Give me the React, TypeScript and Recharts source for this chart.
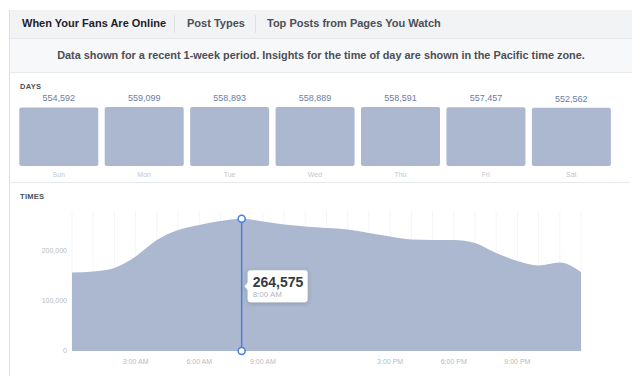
import React from "react";
import {
  BarChart,
  Bar,
  AreaChart,
  Area,
  XAxis,
  YAxis,
  CartesianGrid,
  LabelList,
  ReferenceLine,
  ReferenceDot,
} from "recharts";

const days = ["Sun", "Mon", "Tue", "Wed", "Thu", "Fri", "Sat"];
const dayFans = [554592, 559099, 558893, 558889, 558591, 557457, 552562];

const hours = [
  0, 1, 2, 3, 4, 5, 6, 7, 8, 9, 10, 11, 12, 13, 14, 15, 16, 17, 18, 19, 20, 21,
  22, 23, 24,
];
const hourLabels = [
  "12:00 AM", "1:00 AM", "2:00 AM", "3:00 AM", "4:00 AM", "5:00 AM",
  "6:00 AM", "7:00 AM", "8:00 AM", "9:00 AM", "10:00 AM", "11:00 AM",
  "12:00 PM", "1:00 PM", "2:00 PM", "3:00 PM", "4:00 PM", "5:00 PM",
  "6:00 PM", "7:00 PM", "8:00 PM", "9:00 PM", "10:00 PM", "11:00 PM",
  "12:00 AM",
];
const hourFans = [
  157000, 159000, 166000, 189000, 222000, 242000, 252000, 260000, 264575,
  259000, 253000, 249000, 246000, 243000, 236000, 229000, 223000, 222000,
  222000, 216000, 196000, 180000, 171000, 177000, 158000,
];
const labeledHours = [3, 6, 9, 15, 18, 21];
const yTicks = [0, 100000, 200000];
const peakHour = 8;

const dayData = days.map((d, i) => ({ day: d, fans: dayFans[i] }));
const hourData = hours.map((h, i) => ({ hour: h, fans: hourFans[i] }));

const FONT = '"Liberation Sans", Arial, Helvetica, sans-serif';
const FILL = "#abb8cf";
const BLUE = "#4a7fdb";

const fmt = (v: number) => v.toLocaleString("en-US");

function PeakLabel(props: any) {
  const vb = props.viewBox || {};
  const x = vb.x + 6;
  const y = vb.y + vb.height * 0.39;
  const w = 60;
  const h = 32;
  return (
    <g>
      <path
        d={`M${x + 3},${y} h${w - 6} a3,3 0 0 1 3,3 v${h - 6} a3,3 0 0 1 -3,3 h${-(w - 6)} a3,3 0 0 1 -3,-3 v${-(h / 2 - 7)} l-3,-4 l3,-4 v${-(h / 2 - 7)} a3,3 0 0 1 3,-3 z`}
        fill="#fff"
        stroke="#e1e4ea"
        strokeWidth={0.5}
        style={{ filter: "drop-shadow(0 1px 2px rgba(0,0,0,0.18))" }}
      />
      <text
        x={x + 5}
        y={y + 17}
        fontSize={14}
        fontWeight="bold"
        fill="#373a40"
        fontFamily={FONT}
      >
        {fmt(hourFans[peakHour])}
      </text>
      <text x={x + 5} y={y + 27} fontSize={8} fill="#b3b6bc" fontFamily={FONT}>
        {hourLabels[peakHour]}
      </text>
    </g>
  );
}

export default function App() {
  return (
    <div
      style={{
        position: "absolute",
        left: 0,
        top: 0,
        width: 640,
        height: 376,
        background: "#fff",
        overflow: "hidden",
        fontFamily: FONT,
      }}
    >
      {/* card frame */}
      <div
        style={{
          position: "absolute",
          left: 9,
          top: 10,
          width: 623,
          height: 366,
          borderLeft: "1px solid #dddfe2",
        }}
      />
      {/* tabs */}
      <div
        style={{
          position: "absolute",
          left: 10,
          top: 10,
          width: 622,
          height: 28,
          background: "#f2f3f5",
          borderBottom: "1px solid #e6e8eb",
          fontSize: 11,
          fontWeight: "bold",
        }}
      >
        <span style={{ position: "absolute", left: 12, top: 7, color: "#1d2129" }}>
          When Your Fans Are Online
        </span>
        <div style={{ position: "absolute", left: 164, top: 5, width: 1, height: 18, background: "#dfe1e5" }} />
        <span style={{ position: "absolute", left: 177, top: 7, color: "#4b4f56" }}>
          Post Types
        </span>
        <div style={{ position: "absolute", left: 245, top: 5, width: 1, height: 18, background: "#dfe1e5" }} />
        <span style={{ position: "absolute", left: 257, top: 7, color: "#4b4f56" }}>
          Top Posts from Pages You Watch
        </span>
      </div>
      {/* subtitle */}
      <div
        style={{
          position: "absolute",
          left: 10,
          top: 39,
          width: 622,
          height: 33,
          background: "#f7f8f9",
          borderBottom: "1px solid #e6e8eb",
          textAlign: "center",
          fontSize: 10.9,
          fontWeight: "bold",
          color: "#4b4f56",
          lineHeight: "33px",
        }}
      >
        Data shown for a recent 1-week period. Insights for the time of day are
        shown in the Pacific time zone.
      </div>

      <div
        style={{
          position: "absolute",
          left: 20,
          top: 82,
          fontSize: 7.5,
          fontWeight: "bold",
          color: "#4b4f56",
          letterSpacing: 0.3,
        }}
      >
        DAYS
      </div>
      <div style={{ position: "absolute", left: 0, top: 90 }}>
        <BarChart
          width={640}
          height={94}
          data={dayData}
          margin={{ top: 17, right: 26, left: 16, bottom: 0 }}
          barCategoryGap="3.85%"
        >
          <XAxis
            dataKey="day"
            height={18}
            tickLine={false}
            axisLine={false}
            tickSize={0}
            tickMargin={6}
            tick={{ fontSize: 7, fill: "#c4c7cc", fontFamily: FONT }}
          />
          <YAxis hide domain={[0, "dataMax"]} />
          <Bar dataKey="fans" fill={FILL} radius={2} isAnimationActive={false}>
            <LabelList
              dataKey="fans"
              position="top"
              offset={6}
              formatter={(v: any) => fmt(Number(v))}
              style={{ fontSize: 9, fill: "#6a7ca3", fontFamily: FONT }}
            />
          </Bar>
        </BarChart>
      </div>
      <div
        style={{
          position: "absolute",
          left: 10,
          top: 182,
          width: 620,
          height: 1,
          background: "#e6e8eb",
        }}
      />

      <div
        style={{
          position: "absolute",
          left: 20,
          top: 192,
          fontSize: 7.5,
          fontWeight: "bold",
          color: "#4b4f56",
          letterSpacing: 0.3,
        }}
      >
        TIMES
      </div>
      <div style={{ position: "absolute", left: 0, top: 200 }}>
        <AreaChart
          width={640}
          height={176}
          data={hourData}
          margin={{ top: 11, right: 59, left: 8, bottom: 0 }}
        >
          <CartesianGrid stroke="#f4f5f7" horizontal={false} />
          <XAxis
            dataKey="hour"
            type="number"
            domain={[0, 24]}
            ticks={hours}
            interval={0}
            height={25}
            tickLine={false}
            axisLine={false}
            tickSize={0}
            tickMargin={8}
            tickFormatter={(h: number) =>
              labeledHours.includes(h) ? hourLabels[h] : ""
            }
            tick={{ fontSize: 7, fill: "#b8bbc0", fontFamily: FONT }}
          />
          <YAxis
            width={64}
            domain={[0, 280000]}
            ticks={yTicks}
            tickLine={false}
            axisLine={false}
            tickSize={0}
            tickMargin={5}
            tickFormatter={(v: number) => fmt(v)}
            tick={{ fontSize: 7, fill: "#b8bbc0", fontFamily: FONT }}
          />
          <Area
            type="monotone"
            dataKey="fans"
            stroke="none"
            fill={FILL}
            fillOpacity={1}
            dot={false}
            activeDot={false}
            isAnimationActive={false}
          />
          <ReferenceLine
            segment={[
              { x: peakHour, y: 0 },
              { x: peakHour, y: hourFans[peakHour] },
            ]}
            stroke={BLUE}
            strokeWidth={1.5}
            label={<PeakLabel />}
          />
          <ReferenceDot
            x={peakHour}
            y={hourFans[peakHour]}
            r={3.5}
            fill="#fff"
            stroke={BLUE}
            strokeWidth={1.5}
          />
          <ReferenceDot
            x={peakHour}
            y={0}
            r={3.5}
            fill="#fff"
            stroke={BLUE}
            strokeWidth={1.5}
          />
        </AreaChart>
      </div>
    </div>
  );
}
